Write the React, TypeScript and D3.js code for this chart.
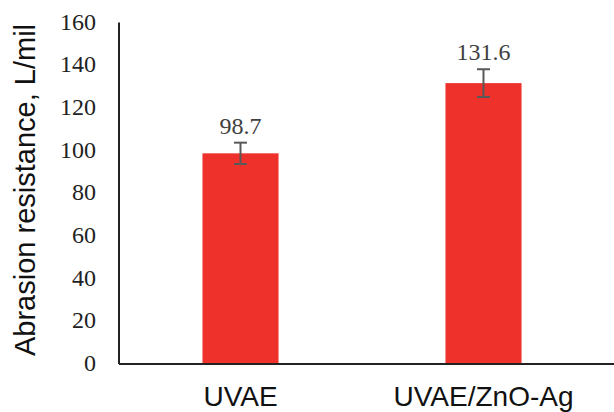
import React from "react";
import * as d3 from "d3";

const categories = ["UVAE", "UVAE/ZnO-Ag"];
const values = [98.7, 131.6];
const errors = [5, 6.5];
const valueLabels = ["98.7", "131.6"];
const yTicks = [0, 20, 40, 60, 80, 100, 120, 140, 160];
const yTitle = "Abrasion resistance, L/mil";

export default function App() {
  const W = 614, H = 412;
  const x0 = 119, y0 = 364, yTop = 22.5;
  const y = d3.scaleLinear().domain([0, 160]).range([y0, yTop]);
  const x = d3.scaleBand<string>().domain(categories).range([119, 605]).paddingInner(0.687).paddingOuter(0.3435);
  const bw = x.bandwidth();
  return (
    <svg width={W} height={H} style={{ position: "absolute", left: 0, top: 0, background: "#fff" }}>
      <rect x={0} y={0} width={W} height={H} fill="#fff" />
      {categories.map((c, i) => {
        const cx = (x(c) as number) + bw / 2;
        const top = y(values[i] + errors[i]);
        const bot = y(values[i] - errors[i]);
        return (
          <g key={c}>
            <rect x={x(c)} y={y(values[i])} width={bw} height={y0 - y(values[i])} fill="#EE312B" />
            <line x1={cx} x2={cx} y1={top} y2={bot} stroke="#595959" strokeWidth={2} />
            <line x1={cx - 6.5} x2={cx + 6.5} y1={top} y2={top} stroke="#595959" strokeWidth={2} />
            <line x1={cx - 6.5} x2={cx + 6.5} y1={bot} y2={bot} stroke="#595959" strokeWidth={2} />
            <text x={cx} y={top - 9} textAnchor="middle" fontFamily="'Liberation Serif', serif" fontSize={24} fill="#404040">{valueLabels[i]}</text>
            <text x={cx} y={406} textAnchor="middle" fontFamily="'Liberation Sans', Arial, sans-serif" fontSize={28} fill="#111">{c}</text>
          </g>
        );
      })}
      <line x1={x0} x2={x0} y1={yTop} y2={y0} stroke="#222" strokeWidth={2} />
      <line x1={x0} x2={W} y1={y0} y2={y0} stroke="#222" strokeWidth={2} />
      {yTicks.map((t) => (
        <text key={t} x={96} y={y(t) + 7} textAnchor="end" fontFamily="'Liberation Serif', serif" fontSize={24} fill="#222">{t}</text>
      ))}
      <text transform={`translate(35, 190) rotate(-90)`} textAnchor="middle" fontFamily="'Liberation Sans', Arial, sans-serif" fontSize={29} fill="#111">{yTitle}</text>
    </svg>
  );
}
